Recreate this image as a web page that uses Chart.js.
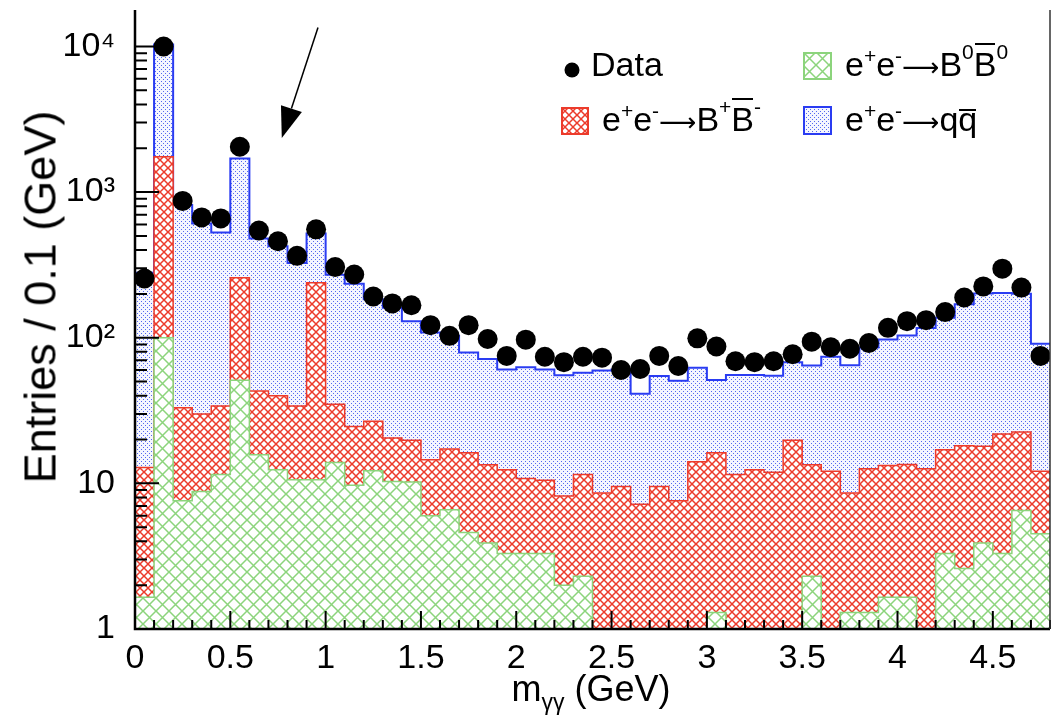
<!DOCTYPE html>
<html>
<head>
<meta charset="utf-8">
<script src="https://cdn.jsdelivr.net/npm/chart.js@4.4.0/dist/chart.umd.min.js"></script>
<style>
  html, body { margin: 0; padding: 0; background: #fff; overflow: hidden; }
  #wrap { position: relative; width: 1060px; height: 718px; font-family: 'Liberation Sans', Arial, sans-serif; }
  #chart { position: absolute; left: 0; top: 0; }
  .txt { position: absolute; white-space: nowrap; color: #000; font-size: 34px; line-height: 1; }
  .s1 { font-size: 21px; vertical-align: 13px; line-height: 0; }
  .s2 { font-size: 21px; vertical-align: 17px; line-height: 0; }
  .arr { font-family: 'DejaVu Sans', sans-serif; font-size: 26px; }
  .ov { position: relative; }
  .ov::before { content: ''; position: absolute; left: 1px; right: 1px; top: -2px; border-top: 2.5px solid #000; }
  .ovq::before { top: 9px; }
  .sw { position: absolute; }
</style>
</head>
<body>
<div id="wrap">
  <canvas id="chart" width="1060" height="718"></canvas>
  <div class="txt" id="ytitle" style="left:40px; top:297px; font-size:45px; transform: translate(-50%, -50%) rotate(-90deg);">Entries / 0.1 (GeV)</div>
  <div class="txt" style="left:591px; top:671px; font-size:36px; transform: translateX(-50%);">m<span style="font-size:23px; vertical-align:-9px;">γγ</span> (GeV)</div>

  <canvas class="sw" id="swData" width="16" height="16" style="left:564px; top:62px;"></canvas>
  <div class="txt" style="left:591px; top:47px;">Data</div>
  <canvas class="sw" id="swB0" width="29" height="28" style="left:803px; top:52px;"></canvas>
  <div class="txt" style="left:845px; top:47px;">e<span class="s1">+</span>e<span class="s1">-</span><span class="arr">⟶</span>B<span class="s2">0</span><span class="ov">B</span><span class="s2">0</span></div>
  <canvas class="sw" id="swBp" width="28" height="28" style="left:561px; top:107px;"></canvas>
  <div class="txt" style="left:602px; top:102px;">e<span class="s1">+</span>e<span class="s1">-</span><span class="arr">⟶</span>B<span class="s2">+</span><span class="ov">B</span><span class="s2">-</span></div>
  <canvas class="sw" id="swQQ" width="29" height="29" style="left:803px; top:106px;"></canvas>
  <div class="txt" style="left:845px; top:102px;">e<span class="s1">+</span>e<span class="s1">-</span><span class="arr">⟶</span>q<span class="ov ovq">q</span></div>
</div>
<script>
const binWidth = 0.1;
const xTickValues = [0, 0.5, 1, 1.5, 2, 2.5, 3, 3.5, 4, 4.5];
const xTickLabels = ['0', '0.5', '1', '1.5', '2', '2.5', '3', '3.5', '4', '4.5'];
const yTickValues = [1, 10, 100, 1000, 10000];
const yTickLabels = ['1', '10', '10²', '10³', '10⁴'];

// entries per 0.1 GeV bin, 0 - 4.8 GeV
const dataCounts = [255, 10000, 870, 670, 660, 2050, 545, 460, 365, 555,
  306, 272, 192, 172, 167, 122, 103, 122, 98, 75,
  97, 74, 68, 74, 73, 60, 61, 75, 64, 99,
  87, 69, 68, 69, 77, 94, 86, 84, 92, 117,
  130, 132, 150, 189, 225, 298, 221, 75];

const qqbar = [266, 8550, 784, 578, 494, 1442, 438, 385, 292, 281,
  236, 210, 157, 140, 110, 94, 86, 63, 58, 48,
  52, 50, 47, 46, 51, 51, 34, 45, 43, 48,
  35, 44, 43, 43, 48, 51, 62, 56, 73, 84,
  90, 104, 120, 152, 183, 181, 178, 79];

const bPlusBMinus = [11.2, 1650, 25.4, 21.2, 22.5, 207, 27.3, 27.6, 23.4, 228,
  21.1, 14.9, 14.5, 10.2, 9.6, 8.5, 10.6, 11.6, 9.5, 9.1,
  7.5, 7.2, 6.2, 9.2, 8.6, 9.5, 7.2, 9.5, 7.6, 14.1,
  14.9, 11.5, 12.4, 11.9, 19.8, 11.1, 12.1, 7.3, 11.3, 11.6,
  11.8, 12.6, 13.7, 15.5, 14.1, 18.5, 16, 7.6];

const bZeroBZero = [1.65, 100, 7.6, 8.8, 11.5, 51, 15.7, 12.4, 10.6, 10.6,
  13.9, 9.7, 12.2, 10.3, 10.2, 6.0, 6.6, 4.6, 3.9, 3.3,
  3.3, 3.3, 2.0, 2.3, 0, 0, 0, 0, 0, 0,
  1.3, 0, 0, 0, 0, 2.3, 0, 1.3, 1.3, 1.65,
  1.65, 0, 3.3, 2.6, 3.9, 3.3, 6.5, 4.5];

// arrow annotation, in axis units
const arrowFrom = { x: 0.96, y: 13500 };
const arrowTo = { x: 0.77, y: 2350 };

const FONT = "'Liberation Sans', Arial, sans-serif";
const canvas = document.getElementById('chart');
const ctx = canvas.getContext('2d');

function makePattern(size, draw, bg) {
  const c = document.createElement('canvas');
  c.width = size; c.height = size;
  const g = c.getContext('2d');
  g.fillStyle = bg || '#fff';
  g.fillRect(0, 0, size, size);
  draw(g, size);
  return ctx.createPattern(c, 'repeat');
}

function crossHatch(color, width) {
  return (g, s) => {
    g.strokeStyle = color;
    g.lineWidth = width;
    g.beginPath();
    g.moveTo(-1, -1); g.lineTo(s + 1, s + 1);
    g.moveTo(-1, s + 1); g.lineTo(s + 1, -1);
    g.stroke();
  };
}

const redPat = makePattern(8, crossHatch('#ec3b2b', 1.5));
const greenPat = makePattern(13, crossHatch('#8cd47c', 1.5));
const bluePat = makePattern(4, (g) => {
  g.fillStyle = '#5468f0';
  g.fillRect(1, 1, 1, 1);
  g.fillRect(3, 3, 1, 1);
}, '#f5f6ff');

function cumulate(...parts) {
  return parts[0].map((_, i) => parts.reduce((s, p) => s + p[i], 0));
}
const greenTop = cumulate(bZeroBZero);
const redTop = cumulate(bZeroBZero, bPlusBMinus);
const blueTop = cumulate(bZeroBZero, bPlusBMinus, qqbar);

// empty bins sit below the axis (a log scale drops exact zeros)
function stepPoints(tops) {
  const ys = tops.map(v => (v > 0 ? v : 1e-3));
  const pts = ys.map((v, i) => ({ x: i * binWidth, y: v }));
  pts.push({ x: ys.length * binWidth, y: ys[ys.length - 1] });
  return pts;
}

function histDataset(label, tops, pattern, color, width) {
  return {
    label: label,
    data: stepPoints(tops),
    stepped: true,
    fill: 'start',
    backgroundColor: pattern,
    borderColor: color,
    borderWidth: width,
    pointRadius: 0
  };
}

const framePlugin = {
  id: 'frame',
  afterDatasetsDraw(chart) {
    const { ctx, chartArea: a, scales: { x, y } } = chart;
    ctx.save();

    // horizontal bin-width error bars on the data
    ctx.strokeStyle = '#000';
    ctx.lineWidth = 1;
    ctx.beginPath();
    dataCounts.forEach((n, i) => {
      const py = y.getPixelForValue(n);
      ctx.moveTo(x.getPixelForValue(i * binWidth) + 1, py);
      ctx.lineTo(x.getPixelForValue((i + 1) * binWidth) - 1, py);
    });
    ctx.stroke();

    // inner tick marks
    ctx.lineWidth = 2;
    ctx.beginPath();
    for (let i = 0; i <= 48; i++) {
      const px = x.getPixelForValue(i * binWidth);
      const len = i % 5 === 0 ? 18 : 9;
      ctx.moveTo(px, a.bottom);
      ctx.lineTo(px, a.bottom - len);
    }
    for (let d = 0; d <= 4; d++) {
      for (let k = 1; k <= 9; k++) {
        const v = k * Math.pow(10, d);
        if (v > y.max) continue;
        const py = y.getPixelForValue(v);
        const len = k === 1 ? 24 : 12;
        ctx.moveTo(a.left, py);
        ctx.lineTo(a.left + len, py);
      }
    }
    ctx.stroke();

    // frame
    ctx.strokeStyle = '#000';
    ctx.lineWidth = 2.5;
    ctx.beginPath();
    ctx.moveTo(a.left, a.top);
    ctx.lineTo(a.left, a.bottom);
    ctx.lineTo(a.right, a.bottom);
    ctx.stroke();
    ctx.strokeStyle = '#333';
    ctx.lineWidth = 1.5;
    ctx.beginPath();
    ctx.moveTo(a.right, a.top);
    ctx.lineTo(a.right, a.bottom);
    ctx.stroke();

    // arrow
    const x0 = x.getPixelForValue(arrowFrom.x), y0 = y.getPixelForValue(arrowFrom.y);
    const x1 = x.getPixelForValue(arrowTo.x), y1 = y.getPixelForValue(arrowTo.y);
    const ang = Math.atan2(y1 - y0, x1 - x0);
    const headLen = 31, headW = 11;
    const bx = x1 - headLen * Math.cos(ang), by = y1 - headLen * Math.sin(ang);
    ctx.strokeStyle = '#000';
    ctx.lineWidth = 1.5;
    ctx.beginPath();
    ctx.moveTo(x0, y0);
    ctx.lineTo(bx, by);
    ctx.stroke();
    ctx.fillStyle = '#000';
    ctx.beginPath();
    ctx.moveTo(x1, y1);
    ctx.lineTo(bx + headW * Math.sin(ang), by - headW * Math.cos(ang));
    ctx.lineTo(bx - headW * Math.sin(ang), by + headW * Math.cos(ang));
    ctx.closePath();
    ctx.fill();

    ctx.restore();
  }
};

new Chart(ctx, {
  type: 'line',
  data: {
    datasets: [
      {
        label: 'Data',
        data: dataCounts.map((v, i) => ({ x: (i + 0.5) * binWidth, y: v })),
        showLine: false,
        pointRadius: 10,
        pointBackgroundColor: '#000',
        pointBorderColor: '#000',
        pointBorderWidth: 0
      },
      histDataset('e+e- -> B0 B0bar', greenTop, greenPat, '#8cd47c', 1.5),
      histDataset('e+e- -> B+ B-', redTop, redPat, '#ec3b2b', 1.5),
      histDataset('e+e- -> q qbar', blueTop, bluePat, '#2a3cf2', 2)
    ]
  },
  options: {
    responsive: false,
    animation: false,
    layout: { padding: { left: 0, right: 8, top: 2, bottom: 0 } },
    plugins: { legend: { display: false }, tooltip: { enabled: false } },
    scales: {
      x: {
        type: 'linear',
        min: 0,
        max: 4.8,
        grid: { display: false, drawTicks: false },
        border: { display: false },
        afterBuildTicks: (s) => { s.ticks = xTickValues.map(v => ({ value: v })); },
        afterFit: (s) => { s.height = 89; },
        ticks: {
          callback: (v, i) => xTickLabels[i],
          font: { size: 34, family: FONT },
          color: '#000',
          padding: 9,
          maxRotation: 0,
          autoSkip: false
        }
      },
      y: {
        type: 'logarithmic',
        min: 1,
        max: 17800,
        grid: { display: false, drawTicks: false },
        border: { display: false },
        afterBuildTicks: (s) => { s.ticks = yTickValues.map(v => ({ value: v })); },
        afterFit: (s) => { s.width = 135; s.paddingTop = 0; s.paddingBottom = 0; },
        ticks: {
          callback: (v, i) => yTickLabels[i],
          font: { size: 34, family: FONT },
          color: '#000',
          padding: 20,
          autoSkip: false
        }
      }
    }
  },
  plugins: [framePlugin]
});

// legend swatches
function swatch(id, pattern, color) {
  const c = document.getElementById(id);
  const g = c.getContext('2d');
  g.fillStyle = pattern;
  g.fillRect(0, 0, c.width, c.height);
  g.strokeStyle = color;
  g.lineWidth = 2;
  g.strokeRect(1, 1, c.width - 2, c.height - 2);
}
swatch('swB0', greenPat, '#8cd47c');
swatch('swBp', redPat, '#ec3b2b');
swatch('swQQ', bluePat, '#2a3cf2');
(function () {
  const g = document.getElementById('swData').getContext('2d');
  g.fillStyle = '#000';
  g.beginPath();
  g.arc(8, 8, 7.5, 0, Math.PI * 2);
  g.fill();
})();
</script>
</body>
</html>
